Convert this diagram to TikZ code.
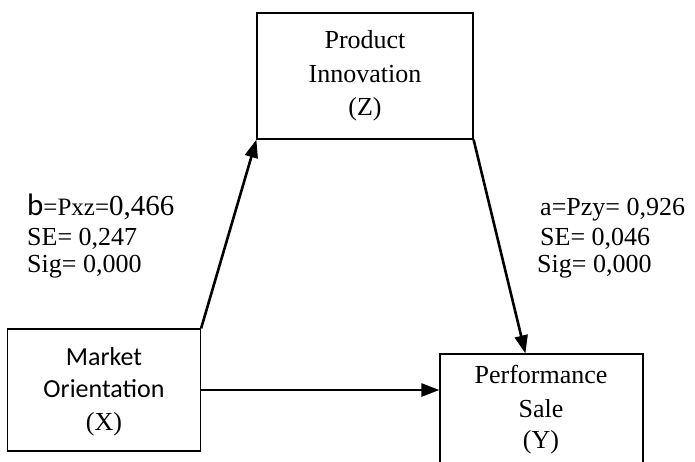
\documentclass[tikz,border=0pt]{standalone}
\usepackage{fontspec}
\setmainfont{Liberation Serif}
\newfontfamily\calib{Carlito}
\usetikzlibrary{arrows.meta,calc}
\begin{document}
\begin{tikzpicture}[x=1pt,y=-1pt,
  box/.style={draw, line width=1.2pt, inner sep=0pt},
  txt/.style={anchor=base, inner sep=0pt, font=\fontsize{26}{30}\selectfont},
  stat/.style={anchor=base west, inner sep=0pt, font=\fontsize{26}{30}\selectfont},
  link/.style={line width=2.6pt, -{Triangle[length=18pt,width=13pt]}}]
\useasboundingbox (0,0) rectangle (695,461);
\clip (0,0) rectangle (695,461);

% variable boxes
\node[box, minimum width=216pt, minimum height=126pt] (Z) at (365,76) {};
\node[box, minimum width=193pt, minimum height=122pt] (X) at (104,390) {};
\node[box, minimum width=203pt, minimum height=126pt] (Y) at (541.5,417) {};

% box texts
\node[txt] (z1) at (365,48) {Product};
\node[txt] (z2) at (365,82) {Innovation};
\node[txt] (z3) at (365,115) {(Z)};

\node[txt, font=\fontsize{26}{30}\calib] (x1) at (104,365) {Market};
\node[txt, font=\fontsize{26}{30}\calib] (x2) at (104,397) {Orientation};
\node[txt] (x3) at (104,430) {(X)};

\node[txt] (y1) at (541,383) {Performance};
\node[txt] (y2) at (541,417) {Sale};
\node[txt] (y3) at (541,448) {(Y)};

% path coefficients
\node[stat] (b1) at (27,215) {{\fontsize{31}{30}\calib b}{\fontsize{25}{30}\selectfont=Pxz=}{\fontsize{29}{30}\selectfont 0,466}};
\node[stat] (b2) at (27,245) {SE= 0,247};
\node[stat] (b3) at (27,272) {Sig= 0,000};

\node[stat] (a1) at (540,215) {a=Pzy= 0,926};
\node[stat] (a2) at (540,245) {SE= 0,046};
\node[stat] (a3) at (537,272) {Sig= 0,000};

% connectors
\draw[link] (X.north east) -- (Z.south west);
\draw[link] (Z.south east) -- ($(Y.north west)+(86,0)$);
\draw[link] (X.east) -- (X.east -| Y.west);
\end{tikzpicture}
\end{document}
